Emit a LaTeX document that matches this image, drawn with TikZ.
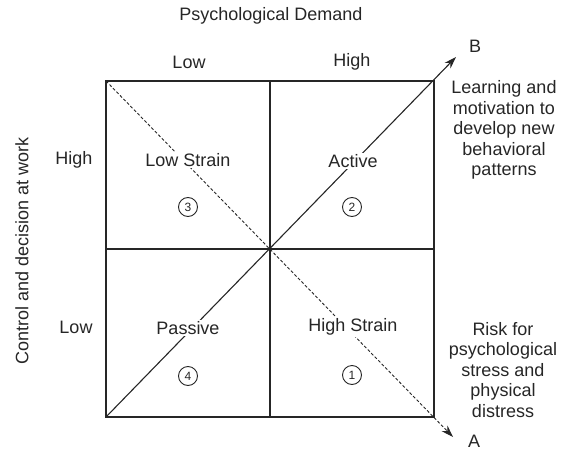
\documentclass[tikz,border=0pt]{standalone}
\usepackage{fontspec}
\setmainfont{Liberation Sans}
\usetikzlibrary{arrows.meta}
\begin{document}
\begin{tikzpicture}[x=1pt,y=-1pt,
  txt/.style={font=\fontsize{18}{20.5}\selectfont, text=black!85, inner sep=1.5pt},
  lbl/.style={txt, fill=white},
  num/.style={circle, draw=black!85, line width=0.9pt, minimum size=19pt, inner sep=0pt,
              font=\fontsize{12}{12}\selectfont, text=black!85},
  frame/.style={line width=1.1pt, draw=black!85},
  arrowline/.style={line width=1.1pt, draw=black!85, -{Stealth[length=12pt,width=8pt]}}]
\useasboundingbox (0,0) rectangle (562,452);
\coordinate (tl) at (106,81);
\coordinate (tr) at (434,81);
\coordinate (bl) at (106,417);
\coordinate (br) at (434,417);
\coordinate (tm) at (270,81);
\coordinate (bm) at (270,417);
\coordinate (lm) at (106,249);
\coordinate (rm) at (434,249);
\coordinate (Btip) at (456,57);
\coordinate (Atip) at (453,437);

\draw[frame] (tl) rectangle (br);
\draw[frame] (tm) -- (bm);
\draw[frame] (lm) -- (rm);
\draw[frame, line width=1.7pt] (bl) -- (br);
\draw[arrowline] (bl) -- (Btip);
\draw[arrowline, line width=0.9pt, dash pattern=on 3pt off 2pt] (tl) -- (Atip);

\node[lbl] (lowstrain) at (188,160) {Low Strain};
\node[num] (n3) at (188,207) {3};
\node[lbl] (active) at (353,161) {Active};
\node[num] (n2) at (352,207) {2};
\node[lbl] (passive) at (188,328) {Passive};
\node[num] (n4) at (188,376) {4};
\node[lbl] (highstrain) at (353,327) {High Strain};
\node[num] (n1) at (352,375) {1};

\node[txt] (title) at (271,16) {Psychological Demand};
\node[txt] (colLow) at (189,62) {Low};
\node[txt] (colHigh) at (352,62) {High};
\node[txt, rotate=90] (ylab) at (22,251) {Control and decision at work};
\node[txt] (rowHigh) at (74,160) {High};
\node[txt] (rowLow) at (76,327) {Low};
\node[txt] (labB) at (475,46) {B};
\node[txt, inner sep=0pt] (labA) at (474,441) {A};
\node[txt, align=center] (learn) at (504,130) {Learning and\\motivation to\\develop new\\behavioral\\patterns};
\node[txt, align=center] (risk) at (503,370) {Risk for\\psychological\\stress and\\physical\\distress};
\end{tikzpicture}
\end{document}
